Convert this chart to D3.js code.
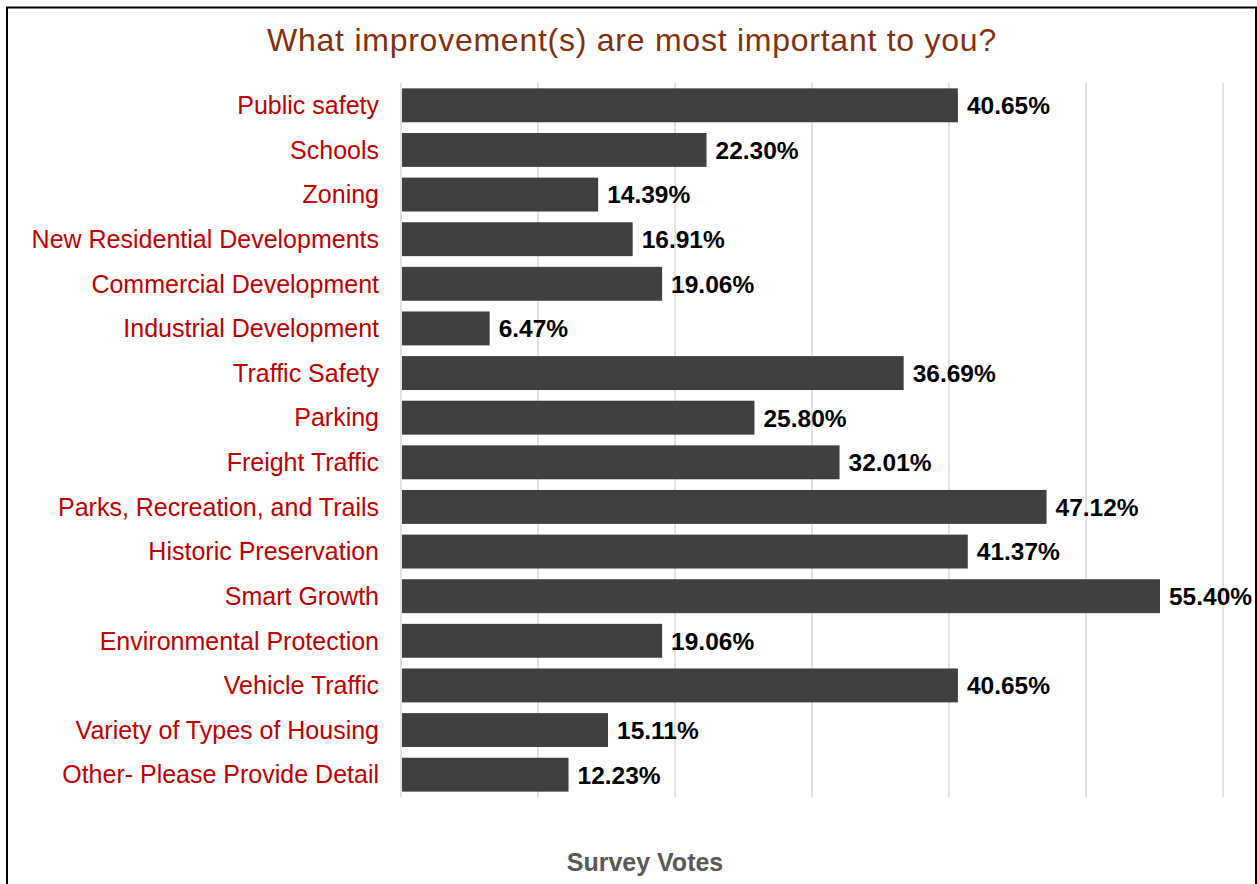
<!DOCTYPE html>
<html>
<head>
<meta charset="utf-8">
<script src="https://cdn.jsdelivr.net/npm/d3@7"></script>
<style>
  body { margin: 0; background: #fff; }
  svg { display: block; font-family: "Liberation Sans", Arial, sans-serif; }
</style>
</head>
<body>
<div id="chart"></div>
<script>
// survey answers, top to bottom
const categories = [
  "Public safety", "Schools", "Zoning", "New Residential Developments",
  "Commercial Development", "Industrial Development", "Traffic Safety", "Parking",
  "Freight Traffic", "Parks, Recreation, and Trails", "Historic Preservation",
  "Smart Growth", "Environmental Protection", "Vehicle Traffic",
  "Variety of Types of Housing", "Other- Please Provide Detail"
];
const votes = [40.65, 22.30, 14.39, 16.91, 19.06, 6.47, 36.69, 25.80,
  32.01, 47.12, 41.37, 55.40, 19.06, 40.65, 15.11, 12.23];
const xTicks = [0, 10, 20, 30, 40, 50, 60];

const width = 1257, height = 884;
const margin = { top: 83, left: 401, right: 34, bottom: 87 };

const svg = d3.select("#chart").append("svg")
  .attr("width", width)
  .attr("height", height);

// frame
svg.append("rect")
  .attr("x", 7).attr("y", 7.5)
  .attr("width", 1249).attr("height", 890)
  .attr("fill", "none")
  .attr("stroke", "#000")
  .attr("stroke-width", 2);

const x = d3.scaleLinear().domain([0, 60]).range([margin.left, width - margin.right]);
const y = d3.scaleBand().domain(categories)
  .range([margin.top, height - margin.bottom])
  .paddingInner(0.24).paddingOuter(0.12);

// grid
svg.append("g").selectAll("line")
  .data(xTicks)
  .enter().append("line")
  .attr("x1", d => x(d)).attr("x2", d => x(d))
  .attr("y1", margin.top).attr("y2", height - margin.bottom)
  .attr("stroke", "#d9d9d9")
  .attr("stroke-width", 1.5);

// bars
svg.append("g").selectAll("rect")
  .data(votes)
  .enter().append("rect")
  .attr("x", x(0) + 1)
  .attr("y", (d, i) => y(categories[i]))
  .attr("width", d => x(d) - x(0) - 1)
  .attr("height", y.bandwidth())
  .attr("fill", "#404040");

// values
svg.append("g").selectAll("text")
  .data(votes)
  .enter().append("text")
  .attr("x", d => x(d) + 9)
  .attr("y", (d, i) => y(categories[i]) + y.bandwidth() / 2)
  .attr("dy", "0.36em")
  .style("font-size", "24.5px")
  .style("font-weight", "bold")
  .attr("fill", "#000")
  .text(d => d.toFixed(2) + "%");

// category labels
svg.append("g").selectAll("text")
  .data(categories)
  .enter().append("text")
  .attr("x", 379)
  .attr("y", d => y(d) + y.bandwidth() / 2)
  .attr("dy", "0.35em")
  .attr("text-anchor", "end")
  .style("font-size", "25px")
  .attr("fill", "#c00000")
  .text(d => d);

// title
svg.append("text")
  .attr("x", 632).attr("y", 51)
  .attr("text-anchor", "middle")
  .style("font-size", "32px")
  .style("letter-spacing", "0.75px")
  .attr("fill", "#82300f")
  .text("What improvement(s) are most important to you?");

// axis title
svg.append("text")
  .attr("x", 645).attr("y", 871)
  .attr("text-anchor", "middle")
  .style("font-size", "25px")
  .style("font-weight", "bold")
  .attr("fill", "#595959")
  .text("Survey Votes");
</script>
</body>
</html>
